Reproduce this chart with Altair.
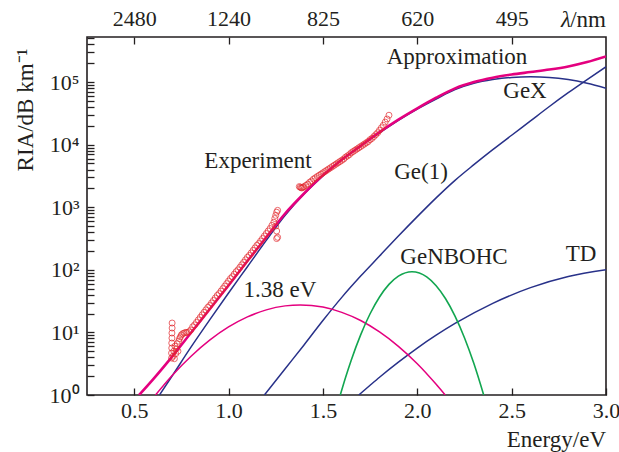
import altair as alt
import pandas as pd

# ---------------- data (RIA values read as log10 off the log axis) ----------------
E_approx = [0.526, 0.6, 0.7, 0.8, 0.9, 1.0, 1.1, 1.2, 1.3, 1.4, 1.5, 1.6, 1.7, 1.8, 1.9,
            2.0, 2.1, 2.2, 2.3, 2.4, 2.5, 2.6, 2.7, 2.8, 2.9, 3.0]
lg_approx = [0, 0.25, 0.61, 0.99, 1.37, 1.75, 2.14, 2.52, 2.9, 3.22, 3.51, 3.76, 3.98, 4.2, 4.4,
             4.58, 4.75, 4.9, 5.0, 5.07, 5.12, 5.16, 5.2, 5.25, 5.32, 5.41]

E_gex = [0.634, 0.7, 0.8, 0.9, 1.0, 1.1, 1.2, 1.3, 1.4, 1.5, 1.6, 1.7, 1.8, 1.9, 2.0,
         2.1, 2.2, 2.3, 2.4, 2.5, 2.6, 2.7, 2.8, 2.9, 3.0]
lg_gex = [0, 0.30, 0.76, 1.2, 1.63, 2.05, 2.47, 2.87, 3.21, 3.5, 3.76, 3.98, 4.19, 4.39, 4.57,
          4.73, 4.88, 4.98, 5.04, 5.075, 5.085, 5.075, 5.04, 4.98, 4.90]

E_ge1 = [1.19, 1.3, 1.4, 1.5, 1.6, 1.7, 1.8, 1.9, 2.0, 2.1, 2.2, 2.3, 2.4, 2.5, 2.6, 2.7, 2.8, 2.9, 3.0]
lg_ge1 = [0, 0.42, 0.8, 1.19, 1.56, 1.9, 2.22, 2.54, 2.85, 3.15, 3.43, 3.68, 3.92, 4.15, 4.38,
          4.61, 4.83, 5.04, 5.245]

E_b138 = [0.613, 0.7, 0.8, 0.9, 1.0, 1.1, 1.2, 1.3, 1.38, 1.5, 1.6, 1.7, 1.8, 1.9, 2.0, 2.1, 2.148]
lg_b138 = [0, 0.308, 0.616, 0.876, 1.087, 1.248, 1.36, 1.424, 1.44, 1.405, 1.32, 1.19, 1.008,
           0.778, 0.5, 0.171, 0]

E_nbohc = [1.592, 1.62, 1.65, 1.7, 1.75, 1.8, 1.85, 1.9, 1.972, 2.05, 2.1, 2.15, 2.2, 2.25, 2.3, 2.352]
lg_nbohc = [0, 0.28, 0.556, 0.961, 1.298, 1.566, 1.767, 1.899, 1.97, 1.887, 1.746, 1.538, 1.261,
            0.916, 0.502, 0]

E_td = [1.69, 1.75, 1.8, 1.9, 2.0, 2.1, 2.2, 2.4, 2.6, 2.8, 3.0]
lg_td = [0, 0.156, 0.284, 0.525, 0.75, 0.955, 1.143, 1.465, 1.715, 1.893, 2.0]

E_exp = [0.698, 0.698, 0.699, 0.699, 0.700, 0.700, 0.701, 0.701,
         0.706, 0.71, 0.713, 0.716, 0.72, 0.724, 0.728, 0.732, 0.736, 0.74, 0.745, 0.75,
         0.757, 0.765, 0.773, 0.78, 0.79, 0.80,
         0.81, 0.82, 0.83, 0.84, 0.85, 0.86, 0.87, 0.88, 0.89, 0.90, 0.91, 0.92, 0.93, 0.94,
         0.95, 0.96, 0.97, 0.98, 0.99, 1.00, 1.01, 1.02, 1.03, 1.04, 1.05, 1.06, 1.07, 1.08,
         1.09, 1.10, 1.11, 1.12, 1.13, 1.14, 1.15, 1.16, 1.17, 1.18, 1.19, 1.20, 1.21, 1.22,
         1.23, 1.24, 1.245, 1.25, 1.255, 1.26, 1.25, 1.255, 1.255, 1.26,
         1.375, 1.38, 1.385, 1.39, 1.395, 1.40, 1.41, 1.42, 1.43, 1.44, 1.45, 1.46, 1.47,
         1.48, 1.49, 1.50, 1.51, 1.52, 1.53, 1.54, 1.55, 1.56, 1.57, 1.58, 1.59, 1.60, 1.61,
         1.62, 1.63, 1.64, 1.65, 1.66, 1.67, 1.68, 1.69, 1.70, 1.71, 1.72, 1.73, 1.74, 1.75,
         1.76, 1.77, 1.78, 1.79, 1.80, 1.81, 1.82, 1.83, 1.84, 1.85]
lg_exp = [0.59, 0.67, 0.75, 0.83, 0.91, 0.99, 1.07, 1.15,
          0.62, 0.70, 0.58, 0.78, 0.66, 0.74, 0.82, 0.70, 0.86, 0.90, 0.93, 0.96,
          0.98, 0.99, 1.00, 1.00, 1.01, 1.04,
          1.09, 1.12, 1.16, 1.20, 1.24, 1.28, 1.32, 1.36, 1.40, 1.43, 1.47, 1.51, 1.55, 1.59,
          1.62, 1.66, 1.70, 1.74, 1.78, 1.82, 1.86, 1.89, 1.93, 1.97, 2.00, 2.04, 2.08, 2.12,
          2.16, 2.20, 2.23, 2.27, 2.31, 2.35, 2.39, 2.42, 2.46, 2.50, 2.54, 2.58, 2.62, 2.66,
          2.71, 2.76, 2.82, 2.87, 2.92, 2.95, 2.70, 2.62, 2.50, 2.52,
          3.33, 3.32, 3.31, 3.31, 3.32, 3.33, 3.35, 3.37, 3.40, 3.42, 3.45, 3.47, 3.49,
          3.51, 3.53, 3.55, 3.57, 3.59, 3.61, 3.63, 3.65, 3.67, 3.69, 3.71, 3.73, 3.75, 3.77,
          3.80, 3.82, 3.84, 3.87, 3.89, 3.91, 3.93, 3.95, 3.97, 3.99, 4.01, 4.03, 4.05, 4.08,
          4.10, 4.13, 4.16, 4.19, 4.23, 4.27, 4.31, 4.36, 4.41, 4.47]

# axis tick values / labels
x_ticks = [0.5, 1.0, 1.5, 2.0, 2.5, 3.0]
top_ticks = [0.5, 1.0, 1.5, 2.0, 2.5]
top_labels = ["2480", "1240", "825", "620", "495"]
y_decades = [1, 10, 100, 1000, 10000, 100000]
y_labels = ["10\u2070", "10\u00b9", "10\u00b2", "10\u00b3", "10\u2074", "10\u2075"]
y_ticks = [m * d for d in y_decades for m in range(1, 10) if m * d <= 520000]

ann_text = ["Approximation", "GeX", "Experiment", "Ge(1)", "1.38 eV", "GeNBOHC", "TD"]
ann_pos = [(370, 20), (438, 54), (171, 124), (334, 135), (193, 253), (367, 220), (494, 217)]

# ---------------- styling ----------------
FONT = "Liberation Serif"
PINK = "#e4007f"
NAVY = "#283189"
GREEN = "#12a650"
RED = "#e3262b"
INK = "#231f20"

W, H = 519, 358
xs = alt.Scale(domain=[0.25, 3.0], nice=False, zero=False)
ys = alt.Scale(type="log", domain=[1, 525000], nice=False)


def table(E, lg):
    return pd.DataFrame({"E": E, "RIA": [10 ** v for v in lg]})


def line(E, lg, color, width, xaxis=None, yaxis=None):
    return alt.Chart(table(E, lg)).mark_line(
        color=color, strokeWidth=width, interpolate="monotone", clip=True
    ).encode(
        x=alt.X("E:Q", scale=xs, axis=xaxis),
        y=alt.Y("RIA:Q", scale=ys, axis=yaxis),
    )


axis_common = dict(
    domain=False, grid=False, tickSize=7, offset=-7, tickColor=INK, tickWidth=1.3,
    labelFont=FONT, labelFontSize=22, labelColor=INK, title=None, labelFlush=False,
    labelOverlap=False,
)

bottom_axis = alt.Axis(orient="bottom", values=x_ticks, format=".1f", labelPadding=5, **axis_common)

top_expr = " : ".join(
    f"datum.value == {v} ? '{l}'" for v, l in zip(top_ticks, top_labels)
) + " : ''"
top_axis = alt.Axis(orient="top", values=top_ticks, labelExpr=top_expr, labelPadding=7, **axis_common)

y_expr = " : ".join(
    f"datum.value == {v} ? '{l}'" for v, l in zip(y_decades, y_labels)
) + " : ''"
left_axis = alt.Axis(orient="left", values=y_ticks, labelExpr=y_expr, labelPadding=8,
                     labelAlign="right", labelBaseline="middle", **axis_common)

layers = [
    line(E_gex, lg_gex, NAVY, 1.5, xaxis=top_axis),
    line(E_ge1, lg_ge1, NAVY, 1.5),
    line(E_td, lg_td, NAVY, 1.5),
    line(E_b138, lg_b138, PINK, 1.5),
    line(E_nbohc, lg_nbohc, GREEN, 1.6),
    line(E_approx, lg_approx, PINK, 2.6, xaxis=bottom_axis, yaxis=left_axis),
    alt.Chart(table(E_exp, lg_exp)).mark_point(
        shape="circle", filled=False, color=RED, size=36, strokeWidth=1, clip=True
    ).encode(
        x=alt.X("E:Q", scale=xs, axis=None),
        y=alt.Y("RIA:Q", scale=ys, axis=None),
    ),
]

for t, (px, py) in zip(ann_text, ann_pos):
    layers.append(
        alt.Chart(pd.DataFrame({"t": [t]})).mark_text(
            font=FONT, fontSize=23, color=INK, align="center", baseline="middle"
        ).encode(x=alt.value(px), y=alt.value(py), text="t:N")
    )

# axis titles as text
layers.append(
    alt.Chart(pd.DataFrame({"t": ["Energy/eV"]})).mark_text(
        font=FONT, fontSize=23, color=INK, align="right", baseline="alphabetic"
    ).encode(x=alt.value(W), y=alt.value(H + 52), text="t:N")
)
layers.append(
    alt.Chart(pd.DataFrame({"t": ["/nm"]})).mark_text(
        font=FONT, fontSize=23, color=INK, align="right", baseline="alphabetic"
    ).encode(x=alt.value(W), y=alt.value(-10), text="t:N")
)
layers.append(
    alt.Chart(pd.DataFrame({"t": ["\u03bb"]})).mark_text(
        font=FONT, fontSize=23, color=INK, align="right", baseline="alphabetic", fontStyle="italic"
    ).encode(x=alt.value(W - 35), y=alt.value(-10), text="t:N")
)
layers.append(
    alt.Chart(pd.DataFrame({"t": ["RIA/dB km\u207b\u00b9"]})).mark_text(
        font=FONT, fontSize=23, color=INK, align="center", baseline="middle", angle=270
    ).encode(x=alt.value(-61), y=alt.value(73), text="t:N")
)

chart = alt.layer(*layers).resolve_axis(x="independent", y="independent").properties(
    width=W, height=H,
    padding={"left": 87, "top": 37, "right": 13, "bottom": 57},
    autosize="none",
).configure_view(stroke=INK, strokeWidth=1.6)

chart.save("out.html", embed_options={"renderer": "svg", "actions": False})
